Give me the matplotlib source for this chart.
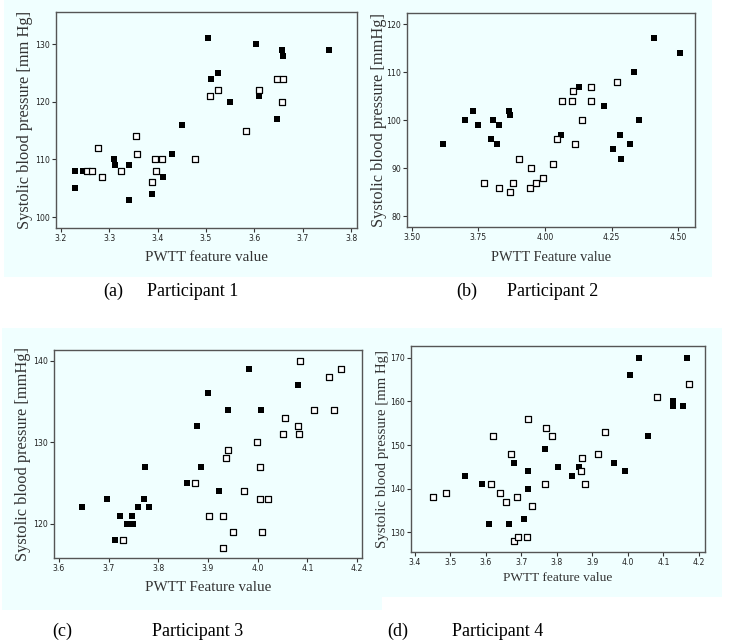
#!/usr/bin/env python3

import numpy as np
import matplotlib
matplotlib.use("Agg")
import matplotlib.pyplot as plt
from matplotlib.patches import Rectangle

# participant 1
p1_filled_x = [3.230, 3.230, 3.245, 3.309, 3.311, 3.340, 3.340, 3.388, 3.412, 3.429, 3.450,
               3.504, 3.510, 3.525, 3.549, 3.603, 3.610, 3.647, 3.657, 3.659, 3.754]
p1_filled_y = [108, 105, 108, 110, 109, 109, 103, 104, 107, 111, 116,
               131, 124, 125, 120, 130, 121, 117, 129, 128, 129]
p1_open_x = [3.254, 3.265, 3.276, 3.286, 3.325, 3.355, 3.357, 3.389, 3.395, 3.397, 3.409,
             3.478, 3.508, 3.525, 3.583, 3.609, 3.647, 3.659, 3.656]
p1_open_y = [108, 108, 112, 107, 108, 114, 111, 106, 110, 108, 110,
             110, 121, 122, 115, 122, 124, 124, 120]

# participant 2
p2_filled_x = [3.616, 3.699, 3.729, 3.750, 3.796, 3.805, 3.819, 3.826, 3.866, 3.870, 4.059,
               4.129, 4.222, 4.254, 4.282, 4.285, 4.320, 4.332, 4.351, 4.407, 4.507]
p2_filled_y = [95, 100, 102, 99, 96, 100, 95, 99, 102, 101, 97,
               107, 103, 94, 97, 92, 95, 110, 100, 117, 114]
p2_open_x = [3.772, 3.826, 3.870, 3.881, 3.902, 3.942, 3.947, 3.965, 3.991, 4.031, 4.045,
             4.064, 4.100, 4.104, 4.111, 4.137, 4.174, 4.174, 4.269]
p2_open_y = [87, 86, 85, 87, 92, 86, 90, 87, 88, 91, 96,
             104, 104, 106, 95, 100, 107, 104, 108]

# participant 3
p3_filled_x = [3.646, 3.697, 3.713, 3.722, 3.737, 3.747, 3.749, 3.759, 3.771, 3.774, 3.781,
               3.858, 3.877, 3.886, 3.900, 3.922, 3.941, 3.982, 4.007, 4.081]
p3_filled_y = [122, 123, 118, 121, 120, 121, 120, 122, 123, 127, 122,
               125, 132, 127, 136, 124, 134, 139, 134, 137]
p3_open_x = [3.728, 3.873, 3.903, 3.931, 3.931, 3.937, 3.941, 3.951, 3.973, 3.999, 4.005,
             4.005, 4.008, 4.020, 4.050, 4.056, 4.083, 4.082, 4.086, 4.113, 4.143, 4.153, 4.168]
p3_open_y = [118, 125, 121, 121, 117, 128, 129, 119, 124, 130, 127,
             123, 119, 123, 131, 133, 131, 132, 140, 134, 138, 134, 139]

# participant 4
p4_filled_x = [3.541, 3.591, 3.610, 3.666, 3.679, 3.707, 3.718, 3.720, 3.766, 3.804, 3.844,
               3.862, 3.962, 3.993, 4.007, 4.032, 4.057, 4.128, 4.128, 4.154, 4.167]
p4_filled_y = [143, 141, 132, 132, 146, 133, 144, 140, 149, 145, 143,
               145, 146, 144, 166, 170, 152, 160, 159, 159, 170]
p4_open_x = [3.451, 3.488, 3.614, 3.622, 3.639, 3.656, 3.670, 3.680, 3.689, 3.690, 3.715,
             3.718, 3.730, 3.768, 3.771, 3.788, 3.869, 3.870, 3.879, 3.917, 3.937, 4.081, 4.172]
p4_open_y = [138, 139, 141, 152, 139, 137, 148, 128, 138, 129, 129,
             156, 136, 141, 154, 152, 144, 147, 141, 148, 153, 161, 164]

W, H = 732, 643
BG = "#f0ffff"

fig = plt.figure(figsize=(W / 100, H / 100), dpi=100)
fig.patch.set_facecolor("white")


def rect_px(x0, y0, x1, y1):
    return [x0 / W, 1 - y1 / H, (x1 - x0) / W, (y1 - y0) / H]


# light blue panel backgrounds
for x0, y0, x1, y1 in [(4, 0, 712, 277), (2, 328, 382, 610), (365, 328, 722, 597)]:
    r = rect_px(x0, y0, x1, y1)
    fig.add_artist(Rectangle((r[0], r[1]), r[2], r[3], transform=fig.transFigure,
                             facecolor=BG, edgecolor="none", zorder=0))

panels = [
    dict(box=(56, 12, 357, 228), fx=p1_filled_x, fy=p1_filled_y, ox=p1_open_x, oy=p1_open_y,
         xlim=(3.19, 3.812), ylim=(98.1, 135.6),
         xticks=np.arange(3.2, 3.81, 0.1), xfmt="%.1f", yticks=[100, 110, 120, 130],
         xlabel="PWTT feature value", ylabel="Systolic blood pressure [mm Hg]",
         ylc=-0.078, xly=-0.106, xls=10.8, yls=11.8),
    dict(box=(407, 13, 695, 227), fx=p2_filled_x, fy=p2_filled_y, ox=p2_open_x, oy=p2_open_y,
         xlim=(3.4825, 4.5625), ylim=(77.8, 122.3),
         xticks=[3.5, 3.75, 4.0, 4.25, 4.5], xfmt="%.2f", yticks=[80, 90, 100, 110, 120],
         xlabel="PWTT Feature value", ylabel="Systolic blood pressure [mmHg]",
         ylc=-0.068, xly=-0.112, xls=10.4, yls=11.8),
    dict(box=(54, 350, 362, 558), fx=p3_filled_x, fy=p3_filled_y, ox=p3_open_x, oy=p3_open_y,
         xlim=(3.59, 4.21), ylim=(115.8, 141.3),
         xticks=np.arange(3.6, 4.21, 0.1), xfmt="%.1f", yticks=[120, 130, 140],
         xlabel="PWTT Feature value", ylabel="Systolic blood pressure [mmHg]",
         ylc=-0.074, xly=-0.11, xls=10.8, yls=11.8),
    dict(box=(411, 346, 705, 552), fx=p4_filled_x, fy=p4_filled_y, ox=p4_open_x, oy=p4_open_y,
         xlim=(3.39, 4.217), ylim=(125.5, 172.7),
         xticks=np.arange(3.4, 4.21, 0.1), xfmt="%.1f", yticks=[130, 140, 150, 160, 170],
         xlabel="PWTT feature value", ylabel="Systolic blood pressure [mm Hg]",
         ylc=-0.075, xly=-0.097, xls=9.6, yls=10.7),
]

for p in panels:
    ax = fig.add_axes(rect_px(*p["box"]))
    ax.set_facecolor(BG)
    ax.scatter(p["fx"], p["fy"], marker="s", s=16, c="black", linewidths=0, zorder=3)
    ax.scatter(p["ox"], p["oy"], marker="s", s=13, facecolors="white",
               edgecolors="black", linewidths=0.9, zorder=3)
    ax.set_xlim(*p["xlim"])
    ax.set_ylim(*p["ylim"])
    ax.set_xticks(p["xticks"])
    ax.set_xticklabels([p["xfmt"] % v for v in p["xticks"]])
    ax.set_yticks(p["yticks"])
    for sp in ax.spines.values():
        sp.set_color("#555555")
        sp.set_linewidth(1.0)
    ax.tick_params(direction="out", length=3, width=0.8, color="#333333",
                   labelsize=6.2, labelcolor="#222222", pad=1.5)
    for lab in ax.get_xticklabels() + ax.get_yticklabels():
        lab.set_family("DejaVu Sans")
        lab.set_stretch("condensed")
    ax.set_xlabel(p["xlabel"], family="Liberation Serif", fontsize=p["xls"],
                  color="#333333", va="top")
    ax.set_ylabel(p["ylabel"], family="Liberation Serif", fontsize=p["yls"],
                  color="#333333")
    ax.xaxis.set_label_coords(0.5, p["xly"])
    ax.yaxis.set_label_coords(p["ylc"], 0.5)

# captions under each panel
captions = [("(a)", 113, "Participant 1", 147, 291), ("(b)", 467, "Participant 2", 507, 291),
            ("(c)", 62, "Participant 3", 152, 631), ("(d)", 398, "Participant 4", 452, 631)]
for tag, tx, name, nx, y in captions:
    fig.text(tx / W, 1 - y / H, tag, ha="center", va="center",
             family="Liberation Serif", fontsize=13)
    fig.text(nx / W, 1 - y / H, name, ha="left", va="center",
             family="Liberation Serif", fontsize=13)

fig.savefig("out.png", dpi=100, facecolor="white")
